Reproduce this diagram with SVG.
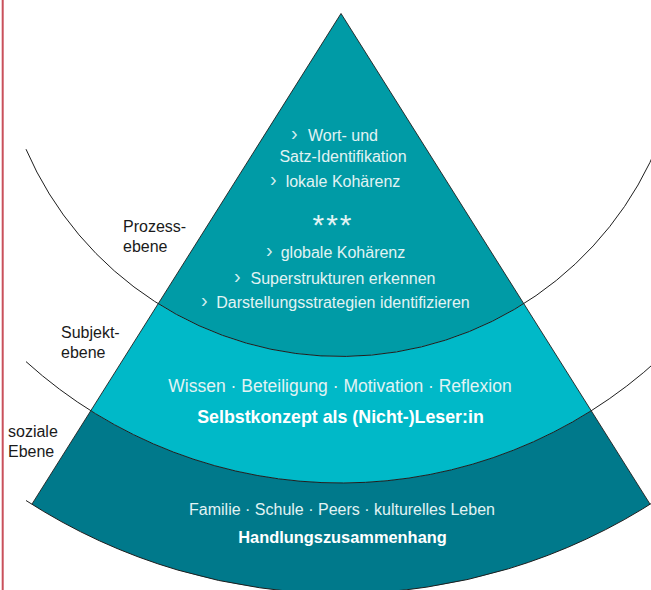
<svg xmlns="http://www.w3.org/2000/svg" width="651" height="590" viewBox="0 0 651 590">
  <style>
    .band-top { fill: #009BA6; }
    .band-mid { fill: #00B9C8; }
    .band-bot { fill: #00798B; }
    .edge { fill: none; stroke: #1e1e1e; stroke-width: 0.9; }
    .arc { fill: none; stroke: #1e1e1e; stroke-width: 1; }
    .t { font-family: "Liberation Sans", Arial, sans-serif; fill: #E2F3F4; text-anchor: middle; }
    .tb { font-family: "Liberation Sans", Arial, sans-serif; fill: #FFFFFF; font-weight: bold; text-anchor: middle; }
    .chev { font-family: "Liberation Sans", Arial, sans-serif; fill: #D0ECEE; font-size: 20px; }
    .lbl { font-family: "Liberation Sans", Arial, sans-serif; fill: #1a1a1a; font-size: 16px; }
  </style>
  <rect x="0" y="0" width="651" height="590" fill="#FFFFFF"/>
  <line x1="2.7" y1="0" x2="2.7" y2="590" stroke="#C9505B" stroke-width="2"/>

  <g id="soziale-ebene">
    <path class="band-bot" d="M90.8,410.7 L31.9,504.2 A580,580 0 0 0 650.1,504.2 L591.2,410.7 A469.5,469.5 0 0 1 90.8,410.7 Z"/>
    <text class="t" x="342" y="515" font-size="16">Familie · Schule · Peers · kulturelles Leben</text>
    <text class="tb" x="342.5" y="543" font-size="16.4">Handlungszusammenhang</text>
  </g>

  <g id="subjekt-ebene">
    <path class="band-mid" d="M158.2,303.7 L90.8,410.7 A469.5,469.5 0 0 0 591.2,410.7 L523.8,303.7 A343,343 0 0 1 158.2,303.7 Z"/>
    <text class="t" x="340" y="392" font-size="17.5">Wissen · Beteiligung · Motivation · Reflexion</text>
    <text class="tb" x="340.5" y="423" font-size="17.8">Selbstkonzept als (Nicht-)Leser:in</text>
  </g>

  <g id="prozess-ebene">
    <path class="band-top" d="M341,13.5 L158.2,303.7 A343,343 0 0 0 523.8,303.7 Z"/>
    <text class="chev" x="291" y="140">›</text>
    <text class="t" x="343" y="141" font-size="16">Wort- und</text>
    <text class="t" x="343" y="162" font-size="16">Satz-Identifikation</text>
    <text class="chev" x="270" y="186">›</text>
    <text class="t" x="343" y="187" font-size="16">lokale Kohärenz</text>
    <text class="t" x="333" y="235" font-size="30" letter-spacing="2">***</text>
    <text class="chev" x="266" y="257">›</text>
    <text class="t" x="343" y="258" font-size="16">globale Kohärenz</text>
    <text class="chev" x="234" y="283">›</text>
    <text class="t" x="343" y="284" font-size="16">Superstrukturen erkennen</text>
    <text class="chev" x="201" y="307">›</text>
    <text class="t" x="343" y="308" font-size="16">Darstellungsstrategien identifizieren</text>
  </g>

  <g id="connectors">
    <path class="edge" d="M31.9,504.2 L341,13.5 L650.1,504.2"/>
    <path class="arc" d="M26,149.2 A343,343 0 0 0 660,139.5"/>
    <path class="arc" d="M26,361.6 A469.5,469.5 0 0 0 660,358"/>
    <path class="arc" d="M26,500.5 A580,580 0 0 0 660,497.9"/>
  </g>

  <g id="labels">
    <text class="lbl" x="123" y="232">Prozess-</text>
    <text class="lbl" x="123" y="252">ebene</text>
    <text class="lbl" x="61" y="338">Subjekt-</text>
    <text class="lbl" x="61" y="358">ebene</text>
    <text class="lbl" x="8" y="437">soziale</text>
    <text class="lbl" x="8" y="457">Ebene</text>
  </g>
</svg>
